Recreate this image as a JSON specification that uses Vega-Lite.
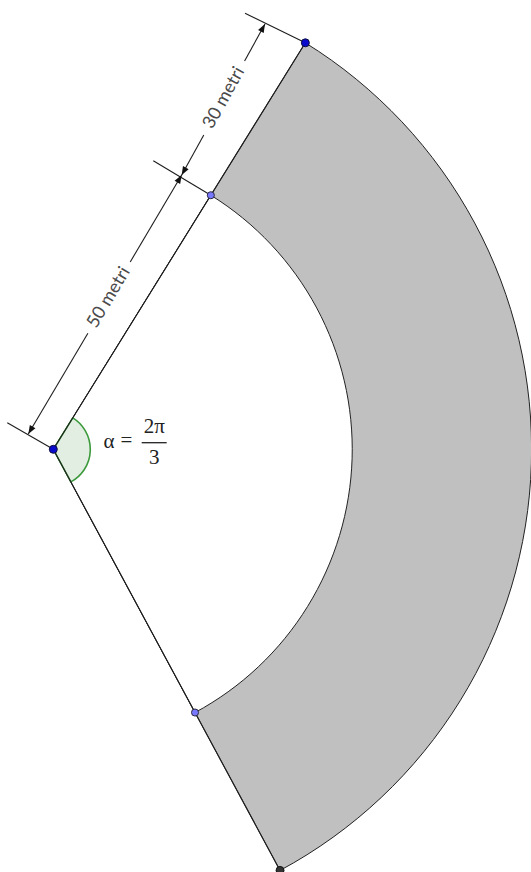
{
  "$schema": "https://vega.github.io/schema/vega-lite/v6.json",
  "width": 531,
  "height": 872,
  "autosize": {"type": "none"},
  "padding": 0,
  "background": "white",
  "config": {"view": {"stroke": null}},
  "datasets": {
    "sectors": [
      {"part": "ring", "x": 0, "y": 0, "r_in": 0, "r_out": 80, "start": 31.8, "end": 151.7},
      {"part": "inner", "x": 0, "y": 0, "r_in": 0, "r_out": 50, "start": 31.8, "end": 151.7},
      {"part": "angle", "x": 0, "y": 0, "r_in": 0, "r_out": 6.19, "start": 31.8, "end": 151.7}
    ],
    "segments": [
      {"kind": "ray", "x": 0, "y": 0, "x2": 42.157, "y2": 67.991},
      {"kind": "ray", "x": 0, "y": 0, "x2": 37.927, "y2": -70.438},
      {"kind": "ext", "x": -7.694, "y": 4.449, "x2": 0, "y2": 0},
      {"kind": "ext", "x": 16.725, "y": 48.27, "x2": 26.348, "y2": 42.494},
      {"kind": "ext", "x": 32.06, "y": 72.92, "x2": 42.157, "y2": 67.991},
      {"kind": "dim", "x": -4.181, "y": 2.559, "x2": 5.787, "y2": 19.401},
      {"kind": "dim", "x": 12.862, "y": 31.326, "x2": 21.475, "y2": 45.877},
      {"kind": "dim", "x": 21.475, "y": 45.877, "x2": 25.171, "y2": 52.568},
      {"kind": "dim", "x": 31.995, "y": 64.946, "x2": 35.407, "y2": 71.132},
      {"kind": "bar", "x": 14.785, "y": 1.104, "x2": 18.967, "y2": 1.104}
    ],
    "arrows": [
      {"x": -4.181, "y": 2.559, "dir": 210.6},
      {"x": 21.475, "y": 45.877, "dir": 30.6},
      {"x": 21.475, "y": 45.877, "dir": 208.9},
      {"x": 35.407, "y": 71.132, "dir": 28.9}
    ],
    "points": [
      {"kind": "dark", "x": 0, "y": 0},
      {"kind": "dark", "x": 42.157, "y": 67.991},
      {"kind": "light", "x": 26.348, "y": 42.494},
      {"kind": "light", "x": 23.705, "y": -44.024},
      {"kind": "grey", "x": 37.927, "y": -70.438}
    ],
    "dimlabels": [
      {"x": 9.324, "y": 25.364, "label": "50 metri", "rot": 300.6},
      {"x": 28.583, "y": 58.756, "label": "30 metri", "rot": 298.9}
    ],
    "formula": [
      {"x": 9.316, "y": 1.271, "label": "α"},
      {"x": 12.243, "y": 1.388, "label": "="},
      {"x": 16.893, "y": 3.78, "label": "2π"},
      {"x": 16.893, "y": -1.505, "label": "3"}
    ]
  },
  "encoding": {
    "x": {"field": "x", "type": "quantitative", "axis": null,
          "scale": {"domain": [-8.915, 79.9], "nice": false, "zero": false}},
    "y": {"field": "y", "type": "quantitative", "axis": null,
          "scale": {"domain": [-70.7, 75.15], "nice": false, "zero": false}}
  },
  "layer": [
    {
      "data": {"name": "sectors"},
      "transform": [{"filter": "datum.part === 'ring'"}],
      "mark": {"type": "arc", "fill": "#c0c0c0", "stroke": "#222222", "strokeWidth": 1},
      "encoding": {
        "theta": {"field": "start", "type": "quantitative", "scale": {"type": "linear", "domain": [0, 360], "range": [0, 6.283185307179586]}},
        "theta2": {"field": "end"},
        "radius": {"field": "r_out", "type": "quantitative", "scale": {"type": "linear", "domain": [0, 80], "range": [0, 478.3], "zero": true}},
        "radius2": {"field": "r_in"}
      }
    },
    {
      "data": {"name": "sectors"},
      "transform": [{"filter": "datum.part === 'inner'"}],
      "mark": {"type": "arc", "fill": "#ffffff", "stroke": "#222222", "strokeWidth": 1},
      "encoding": {
        "theta": {"field": "start", "type": "quantitative", "scale": {"type": "linear", "domain": [0, 360], "range": [0, 6.283185307179586]}},
        "theta2": {"field": "end"},
        "radius": {"field": "r_out", "type": "quantitative", "scale": {"type": "linear", "domain": [0, 80], "range": [0, 478.3], "zero": true}},
        "radius2": {"field": "r_in"}
      }
    },
    {
      "data": {"name": "sectors"},
      "transform": [{"filter": "datum.part === 'angle'"}],
      "mark": {"type": "arc", "fill": "#e3eee3", "stroke": "#3c9a3c", "strokeWidth": 1.6},
      "encoding": {
        "theta": {"field": "start", "type": "quantitative", "scale": {"type": "linear", "domain": [0, 360], "range": [0, 6.283185307179586]}},
        "theta2": {"field": "end"},
        "radius": {"field": "r_out", "type": "quantitative", "scale": {"type": "linear", "domain": [0, 80], "range": [0, 478.3], "zero": true}},
        "radius2": {"field": "r_in"}
      }
    },
    {
      "data": {"name": "segments"},
      "transform": [{"filter": "datum.kind !== 'bar'"}],
      "mark": {"type": "rule", "stroke": "#1e1e1e", "strokeWidth": 1.1},
      "encoding": {"x2": {"field": "x2"}, "y2": {"field": "y2"}}
    },
    {
      "data": {"name": "segments"},
      "transform": [{"filter": "datum.kind === 'bar'"}],
      "mark": {"type": "rule", "stroke": "#222222", "strokeWidth": 1.3},
      "encoding": {"x2": {"field": "x2"}, "y2": {"field": "y2"}}
    },
    {
      "data": {"name": "arrows"},
      "mark": {"type": "point", "shape": "M0,0L0.38,1L-0.38,1Z", "size": 289, "filled": true, "fill": "#111111", "stroke": null, "opacity": 1},
      "encoding": {"angle": {"field": "dir", "type": "quantitative", "scale": null}}
    },
    {
      "data": {"name": "points"},
      "transform": [{"filter": "datum.kind === 'dark'"}],
      "mark": {"type": "circle", "size": 64, "fill": "#0a0acc", "stroke": "#101040", "strokeWidth": 1, "opacity": 1}
    },
    {
      "data": {"name": "points"},
      "transform": [{"filter": "datum.kind === 'light'"}],
      "mark": {"type": "circle", "size": 50, "fill": "#7878ff", "stroke": "#2a2a44", "strokeWidth": 1, "opacity": 1}
    },
    {
      "data": {"name": "points"},
      "transform": [{"filter": "datum.kind === 'grey'"}],
      "mark": {"type": "circle", "size": 64, "fill": "#333333", "stroke": "#111111", "strokeWidth": 1, "opacity": 1}
    },
    {
      "data": {"name": "dimlabels"},
      "mark": {"type": "text", "font": "Lato", "fontSize": 18, "fill": "#4a4a4a", "align": "center", "baseline": "middle"},
      "encoding": {
        "text": {"field": "label"},
        "angle": {"field": "rot", "type": "quantitative", "scale": null}
      }
    },
    {
      "data": {"name": "formula"},
      "mark": {"type": "text", "font": "Liberation Serif", "fontSize": 21, "fill": "#222222", "align": "center", "baseline": "middle"},
      "encoding": {"text": {"field": "label"}}
    }
  ]
}
